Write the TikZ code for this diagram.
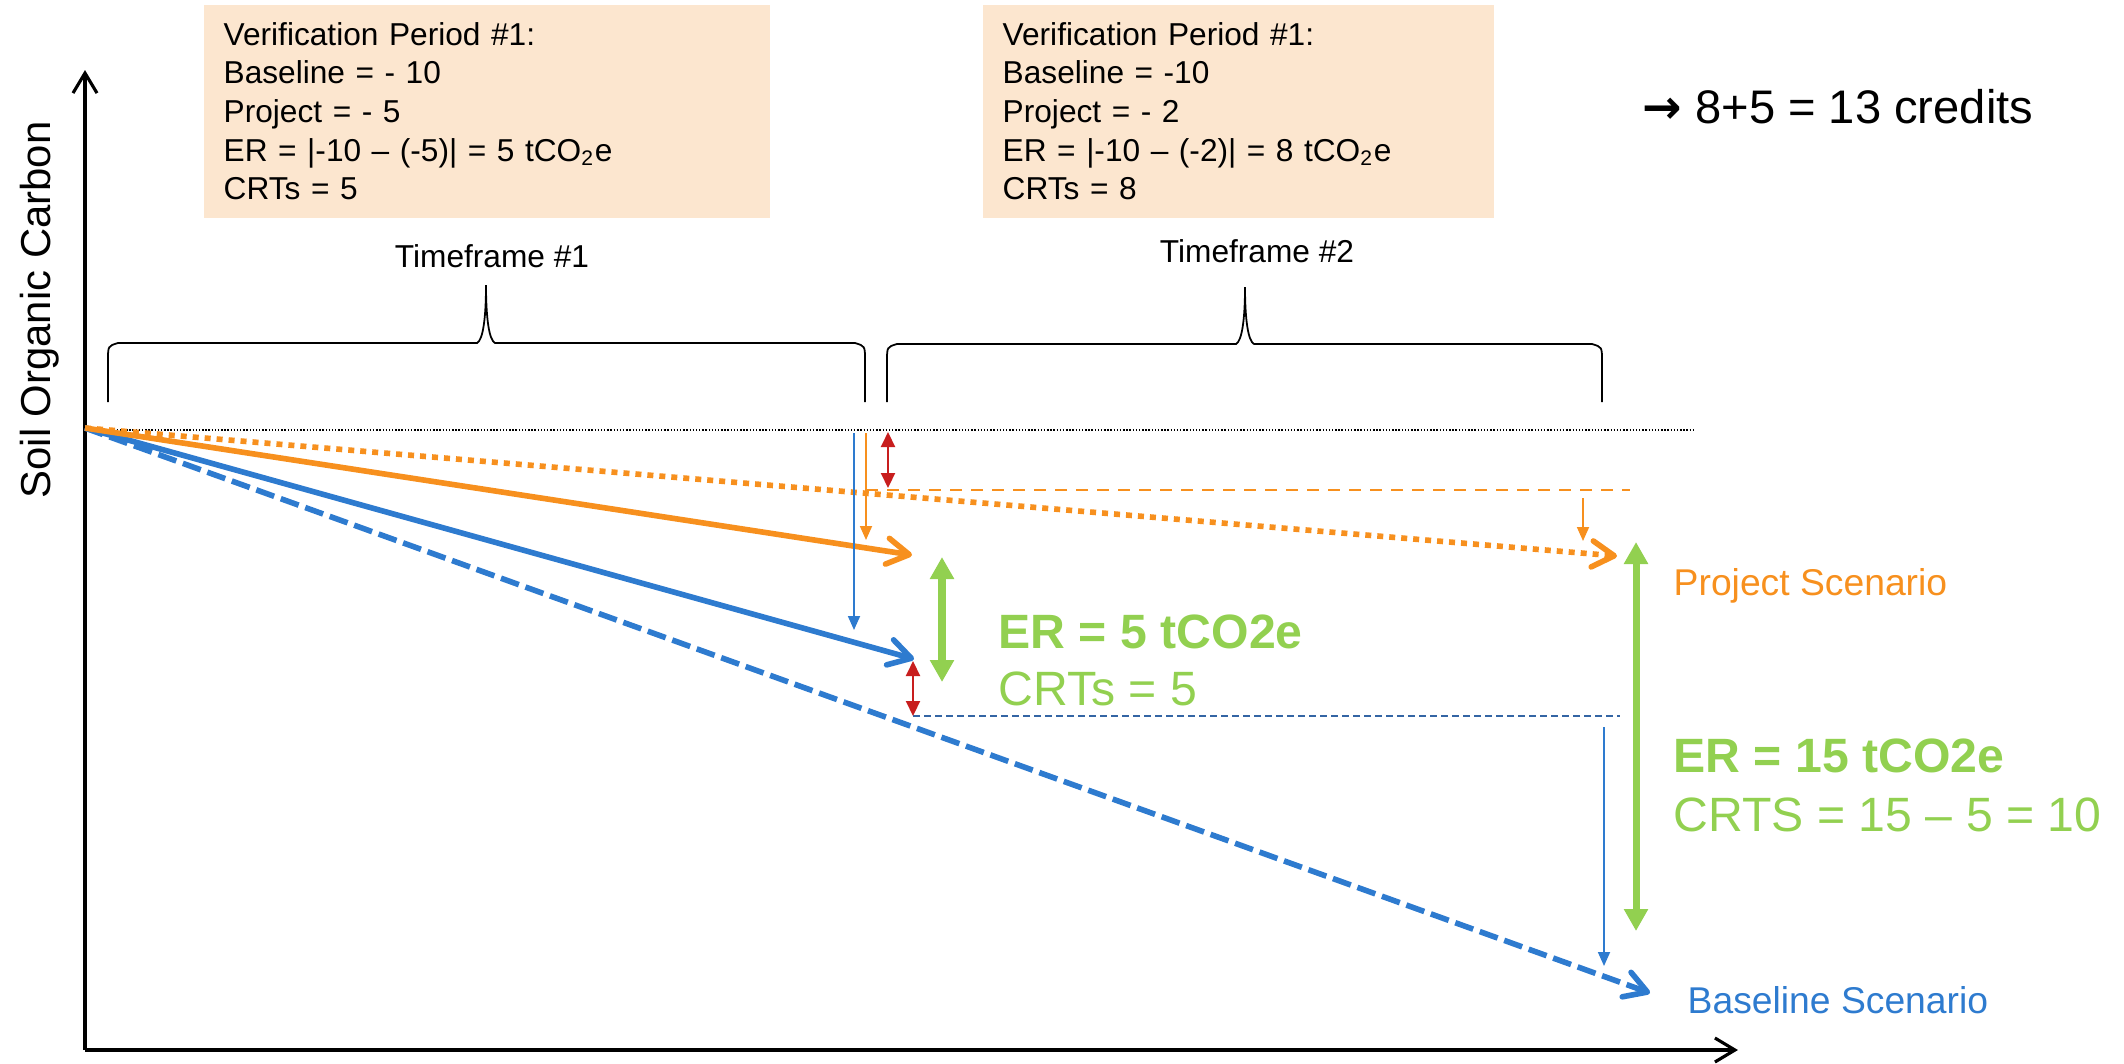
\documentclass[tikz,border=0pt]{standalone}
\usepackage{fontspec}
\setmainfont{Liberation Sans}
\newfontfamily\arrowfont{DejaVu Sans}
\usepackage{tikz}
\usetikzlibrary{arrows.meta}

\definecolor{socorange}{HTML}{F7901E}
\definecolor{socblue}{HTML}{2E7BCF}
\definecolor{socdarkblue}{HTML}{3465A4}
\definecolor{socgreen}{HTML}{92D050}
\definecolor{socred}{HTML}{C81E1E}
\definecolor{vpfill}{HTML}{FCE6CF}

\begin{document}
\begin{tikzpicture}[x=0.01cm, y=-0.01cm,
		vpbox/.style={rectangle, fill=vpfill, align=left, anchor=north west,
				inner xsep=0.2cm, inner ysep=0pt, minimum height=2.13cm,
				font=\fontsize{9}{11}\selectfont},
		axis/.style={line width=0.9pt, -{Straight Barb[length=2mm,width=2.4mm]}},
		scenario/.style={line width=1.6pt, -{Straight Barb[length=2.2mm,width=2.6mm,round]}},
		gap/.style={line width=0.5pt, -{Triangle[length=1.4mm,width=1.2mm]}},
		diff/.style={socred, line width=0.6pt, {Triangle[length=1.5mm,width=1.4mm]}-{Triangle[length=1.5mm,width=1.4mm]}},
		ermark/.style={socgreen, line width=2pt, {Triangle[length=2.2mm,width=2.3mm]}-{Triangle[length=2.2mm,width=2.3mm]}},
		lbl/.style={anchor=base west, inner sep=0pt},
		timeframe/.style={anchor=base, inner sep=0pt, font=\fontsize{9}{11}\selectfont},
		brace/.style={line width=0.5pt},]
	\useasboundingbox (0,0) rectangle (2124,1063);

	% verification periods
	\node (vp1) [vpbox, text width=5.26cm] at (203,4)
	{
		Verification Period \#1:\\ Baseline = - 10\\ Project = - 5\\
		ER = |-10 – (-5)| = 5 tCO\textsubscript{2}e\\ CRTs = 5
	};
	\node (vp2) [vpbox, text width=4.71cm] at (982,4)
	{
		Verification Period \#1:\\ Baseline = -10\\ Project = - 2\\
		ER = |-10 – (-2)| = 8 tCO\textsubscript{2}e\\ CRTs = 8
	};
	\node (credits) [lbl, font=\fontsize{13.4}{16}\selectfont] at (1642,123) {{\arrowfont\bfseries →} 8+5 = 13 credits};

	% timeframes
	\node (tf1) [timeframe] at (492,267) {Timeframe \#1};
	\node (tf2) [timeframe] at (1257,262) {Timeframe \#2};
	\draw [brace] (108,402) -- (108,360) .. controls (108,346) .. (118,343) -- (477,343)
		.. controls (483,340) and (486,318) .. (486,285) .. controls (486,318) and (489,340) .. (495,343)
		-- (855,343) .. controls (865,346) .. (865,360) -- (865,402);
	\draw [brace] (887,402) -- (887,361) .. controls (887,347) .. (897,344) -- (1236,344)
		.. controls (1242,341) and (1245,319) .. (1245,287) .. controls (1245,319) and (1248,341) .. (1254,344)
		-- (1592,344) .. controls (1602,347) .. (1602,361) -- (1602,402);

	% axes
	\coordinate (origin) at (85,1050);
	\coordinate (ytop) at (85,70);
	\coordinate (xend) at (1738,1050);
	\draw [axis] (origin) -- (ytop);
	\draw [axis] (origin) -- (xend);
	\node (soc) [anchor=base, rotate=90, inner sep=0pt, font=\fontsize{11.9}{14}\selectfont] at (51,310) {Soil Organic Carbon};

	% scenarios
	\coordinate (start) at (85,428);
	\coordinate (refend) at (1693,430);
	\coordinate (proj1) at (912,555);
	\coordinate (base1) at (914,659);
	\coordinate (proj2) at (1617,556);
	\coordinate (base2) at (1650,993);
	\draw [line width=0.4pt, dash pattern=on 0.4pt off 0.5pt] (85,430) -- (refend);
	\draw [scenario, socblue, dash pattern=on 1.9mm off 0.7mm] (start) -- (base2);
	\draw [scenario, socorange, dash pattern=on 0.6mm off 0.6mm] (start) -- (proj2);
	\draw [scenario, socblue] (start) -- (base1);
	\draw [scenario, socorange] (start) -- (proj1);

	% levels at end of timeframe #1
	\coordinate (projlvl) at (866,490);
	\coordinate (projlvlend) at (1630,490);
	\coordinate (baselvl) at (913,716);
	\coordinate (baselvlend) at (1620,716);
	\draw [socorange, line width=0.5pt, dash pattern=on 1.2mm off 0.9mm] (projlvl) -- (projlvlend);
	\draw [socdarkblue, line width=0.5pt, dash pattern=on 0.7mm off 0.4mm] (baselvl) -- (baselvlend);

	% changes
	\coordinate (bdrop1) at (854,433);
	\coordinate (bdrop1end) at (854,630);
	\coordinate (pdrop1) at (866,433);
	\coordinate (pdrop1end) at (866,540);
	\coordinate (pdrop2) at (1583,498);
	\coordinate (pdrop2end) at (1583,541);
	\coordinate (bdrop2) at (1604,727);
	\coordinate (bdrop2end) at (1604,966);
	\draw [gap, socblue] (bdrop1) -- (bdrop1end);
	\draw [gap, socorange] (pdrop1) -- (pdrop1end);
	\draw [gap, socorange] (pdrop2) -- (pdrop2end);
	\draw [gap, socblue] (bdrop2) -- (bdrop2end);

	\coordinate (d1top) at (888,432);
	\coordinate (d1bot) at (888,488);
	\coordinate (d2top) at (913,661);
	\coordinate (d2bot) at (913,716);
	\draw [diff] (d1top) -- (d1bot);
	\draw [diff] (d2top) -- (d2bot);

	\coordinate (er1top) at (942,557);
	\coordinate (er1bot) at (942,682);
	\coordinate (er2top) at (1636,542);
	\coordinate (er2bot) at (1636,931);
	\draw [ermark] (er1top) -- (er1bot);
	\draw [ermark] (er2top) -- (er2bot);

	% labels
	\node (projlabel) [lbl, socorange, font=\fontsize{10.6}{13}\selectfont] at (1673,595) {Project Scenario};
	\node (baselabel) [lbl, socblue, font=\fontsize{10.6}{13}\selectfont] at (1687,1013) {Baseline Scenario};
	\node (er1) [lbl, socgreen, font=\fontsize{13.7}{16}\selectfont\bfseries] at (998,648) {ER = 5 tCO2e};
	\node (crt1) [lbl, socgreen, font=\fontsize{13.7}{16}\selectfont] at (998,705) {CRTs = 5};
	\node (er2) [lbl, socgreen, font=\fontsize{13.7}{16}\selectfont\bfseries] at (1673,772) {ER = 15 tCO2e};
	\node (crt2) [lbl, socgreen, font=\fontsize{13.7}{16}\selectfont] at (1673,831) {CRTS = 15 – 5 = 10};
\end{tikzpicture}
\end{document}
